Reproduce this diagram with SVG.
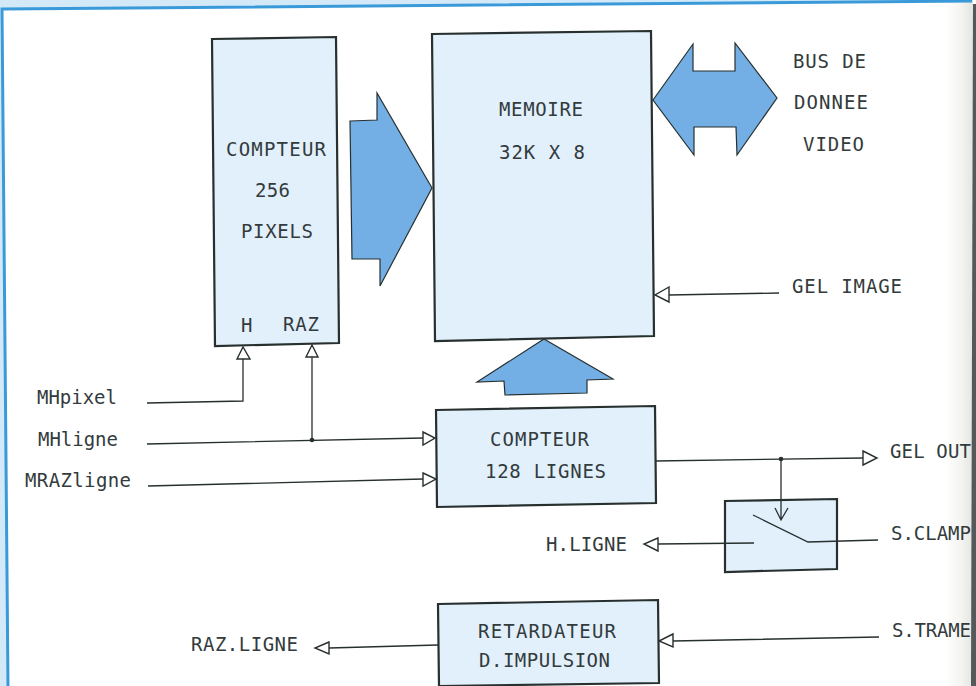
<svg xmlns="http://www.w3.org/2000/svg" width="976" height="686" viewBox="0 0 976 686">
<style>
.t{font-family:"DejaVu Sans Mono","Liberation Mono",monospace;font-size:19px;fill:#333b3d}
.b{fill:#e2f0fb;stroke:#27302f;stroke-width:2.2}
.a{fill:#73aee5;stroke:#27302f;stroke-width:1.2}
.l{fill:none;stroke:#27302f;stroke-width:1.3}
.h{fill:#fff;stroke:#27302f;stroke-width:1.4}
</style>
<defs><linearGradient id="edge" x1="0" x2="1" y1="0" y2="0"><stop offset="0" stop-color="#fff"/><stop offset=".6" stop-color="#f3f4f0"/><stop offset="1" stop-color="#e3e5e2"/></linearGradient></defs>
<rect width="976" height="686" fill="#fff"/>
<rect x="945" y="0" width="28" height="686" fill="url(#edge)"/>
<polygon points="973,4 976,4 976,686 971,686" fill="#55595a"/>
<polygon points="0,0 976,0 2,9 8,686 0,686" fill="#d4e9f8"/>
<path d="M8,686L2,9L972,1" fill="none" stroke="#3a9ad9" stroke-width="3"/>
<g id="compteur-pixels"><polygon class="b" points="212,39 336,37 339,343 215,346"/>
<text class="t" x="226" y="156" textLength="100">COMPTEUR</text><text class="t" x="255" y="197" textLength="35">256</text><text class="t" x="241" y="238" textLength="72">PIXELS</text><text class="t" x="241" y="332" textLength="12">H</text><text class="t" x="283" y="331" textLength="36">RAZ</text></g>
<g id="memoire"><polygon class="b" points="432,34 651,31 654,336 435,341"/>
<text class="t" x="499" y="116" textLength="84">MEMOIRE</text><text class="t" x="499" y="159" textLength="86">32K X 8</text></g>
<g id="compteur-lignes"><polygon class="b" points="436,410 655,406 656,503 437,507"/>
<text class="t" x="490" y="446" textLength="99">COMPTEUR</text><text class="t" x="485" y="478" textLength="121">128 LIGNES</text></g>
<g id="switch"><polygon class="b" points="725,501 837,499 837,569 725,572"/>
<path class="l" d="M753,515L808,542L878,540M658,544L754,543"/></g>
<g id="retardateur"><polygon class="b" points="438,604 658,600 659,683 439,686"/>
<text class="t" x="478" y="638" textLength="138">RETARDATEUR</text><text class="t" x="479" y="667" textLength="131">D.IMPULSION</text></g>
<g id="bus-arrows">
<polygon class="a" points="350,121 377,120 377,93 432,188 380,286 380,259 352,259"/>
<polygon class="a" points="653,100 693,44 693,71 735,71 735,43 777,98 737,155 736,127 694,127 694,155"/>
<polygon class="a" points="544,339 613,379 587,380 587,393 505,395 504,381 477,382"/>
</g>
<g id="connectors">
<path class="l" d="M147,403L243,401V359M147,444L423,438M312,440V357M148,486L423,479M656,461L863,458M781,459V520M775,508L781,520L788,508M779,293L669,295M879,637L673,641M438,645L329,648"/>
<polygon class="h" points="237,359 243,347 250,359"/><polygon class="h" points="306,357 312,345 318,357"/>
<polygon class="h" points="423,432 435,438 423,445"/><polygon class="h" points="423,473 436,479 423,486"/>
<polygon class="h" points="863,451 877,458 863,465"/><polygon class="h" points="669,287 655,295 669,302"/>
<polygon class="h" points="673,634 659,641 673,647"/><polygon class="h" points="329,642 315,648 329,654"/><polygon class="h" points="658,538 644,544 658,551"/>
<circle cx="312" cy="440" r="2.3" fill="#27302f"/><circle cx="781" cy="459" r="2.3" fill="#27302f"/>
</g>
<g id="labels">
<text class="t" x="793" y="68" textLength="73">BUS DE</text><text class="t" x="794" y="109" textLength="74">DONNEE</text><text class="t" x="803" y="151" textLength="61">VIDEO</text>
<text class="t" x="792" y="293" textLength="110">GEL IMAGE</text>
<text class="t" x="37" y="404" textLength="80">MHpixel</text><text class="t" x="38" y="446" textLength="80">MHligne</text><text class="t" x="25" y="487" textLength="106">MRAZligne</text>
<text class="t" x="890" y="458" textLength="81">GEL OUT</text><text class="t" x="891" y="540" textLength="80">S.CLAMP</text><text class="t" x="892" y="637" textLength="79">S.TRAME</text>
<text class="t" x="546" y="551" textLength="81">H.LIGNE</text><text class="t" x="191" y="651" textLength="107">RAZ.LIGNE</text>
</g>
</svg>
